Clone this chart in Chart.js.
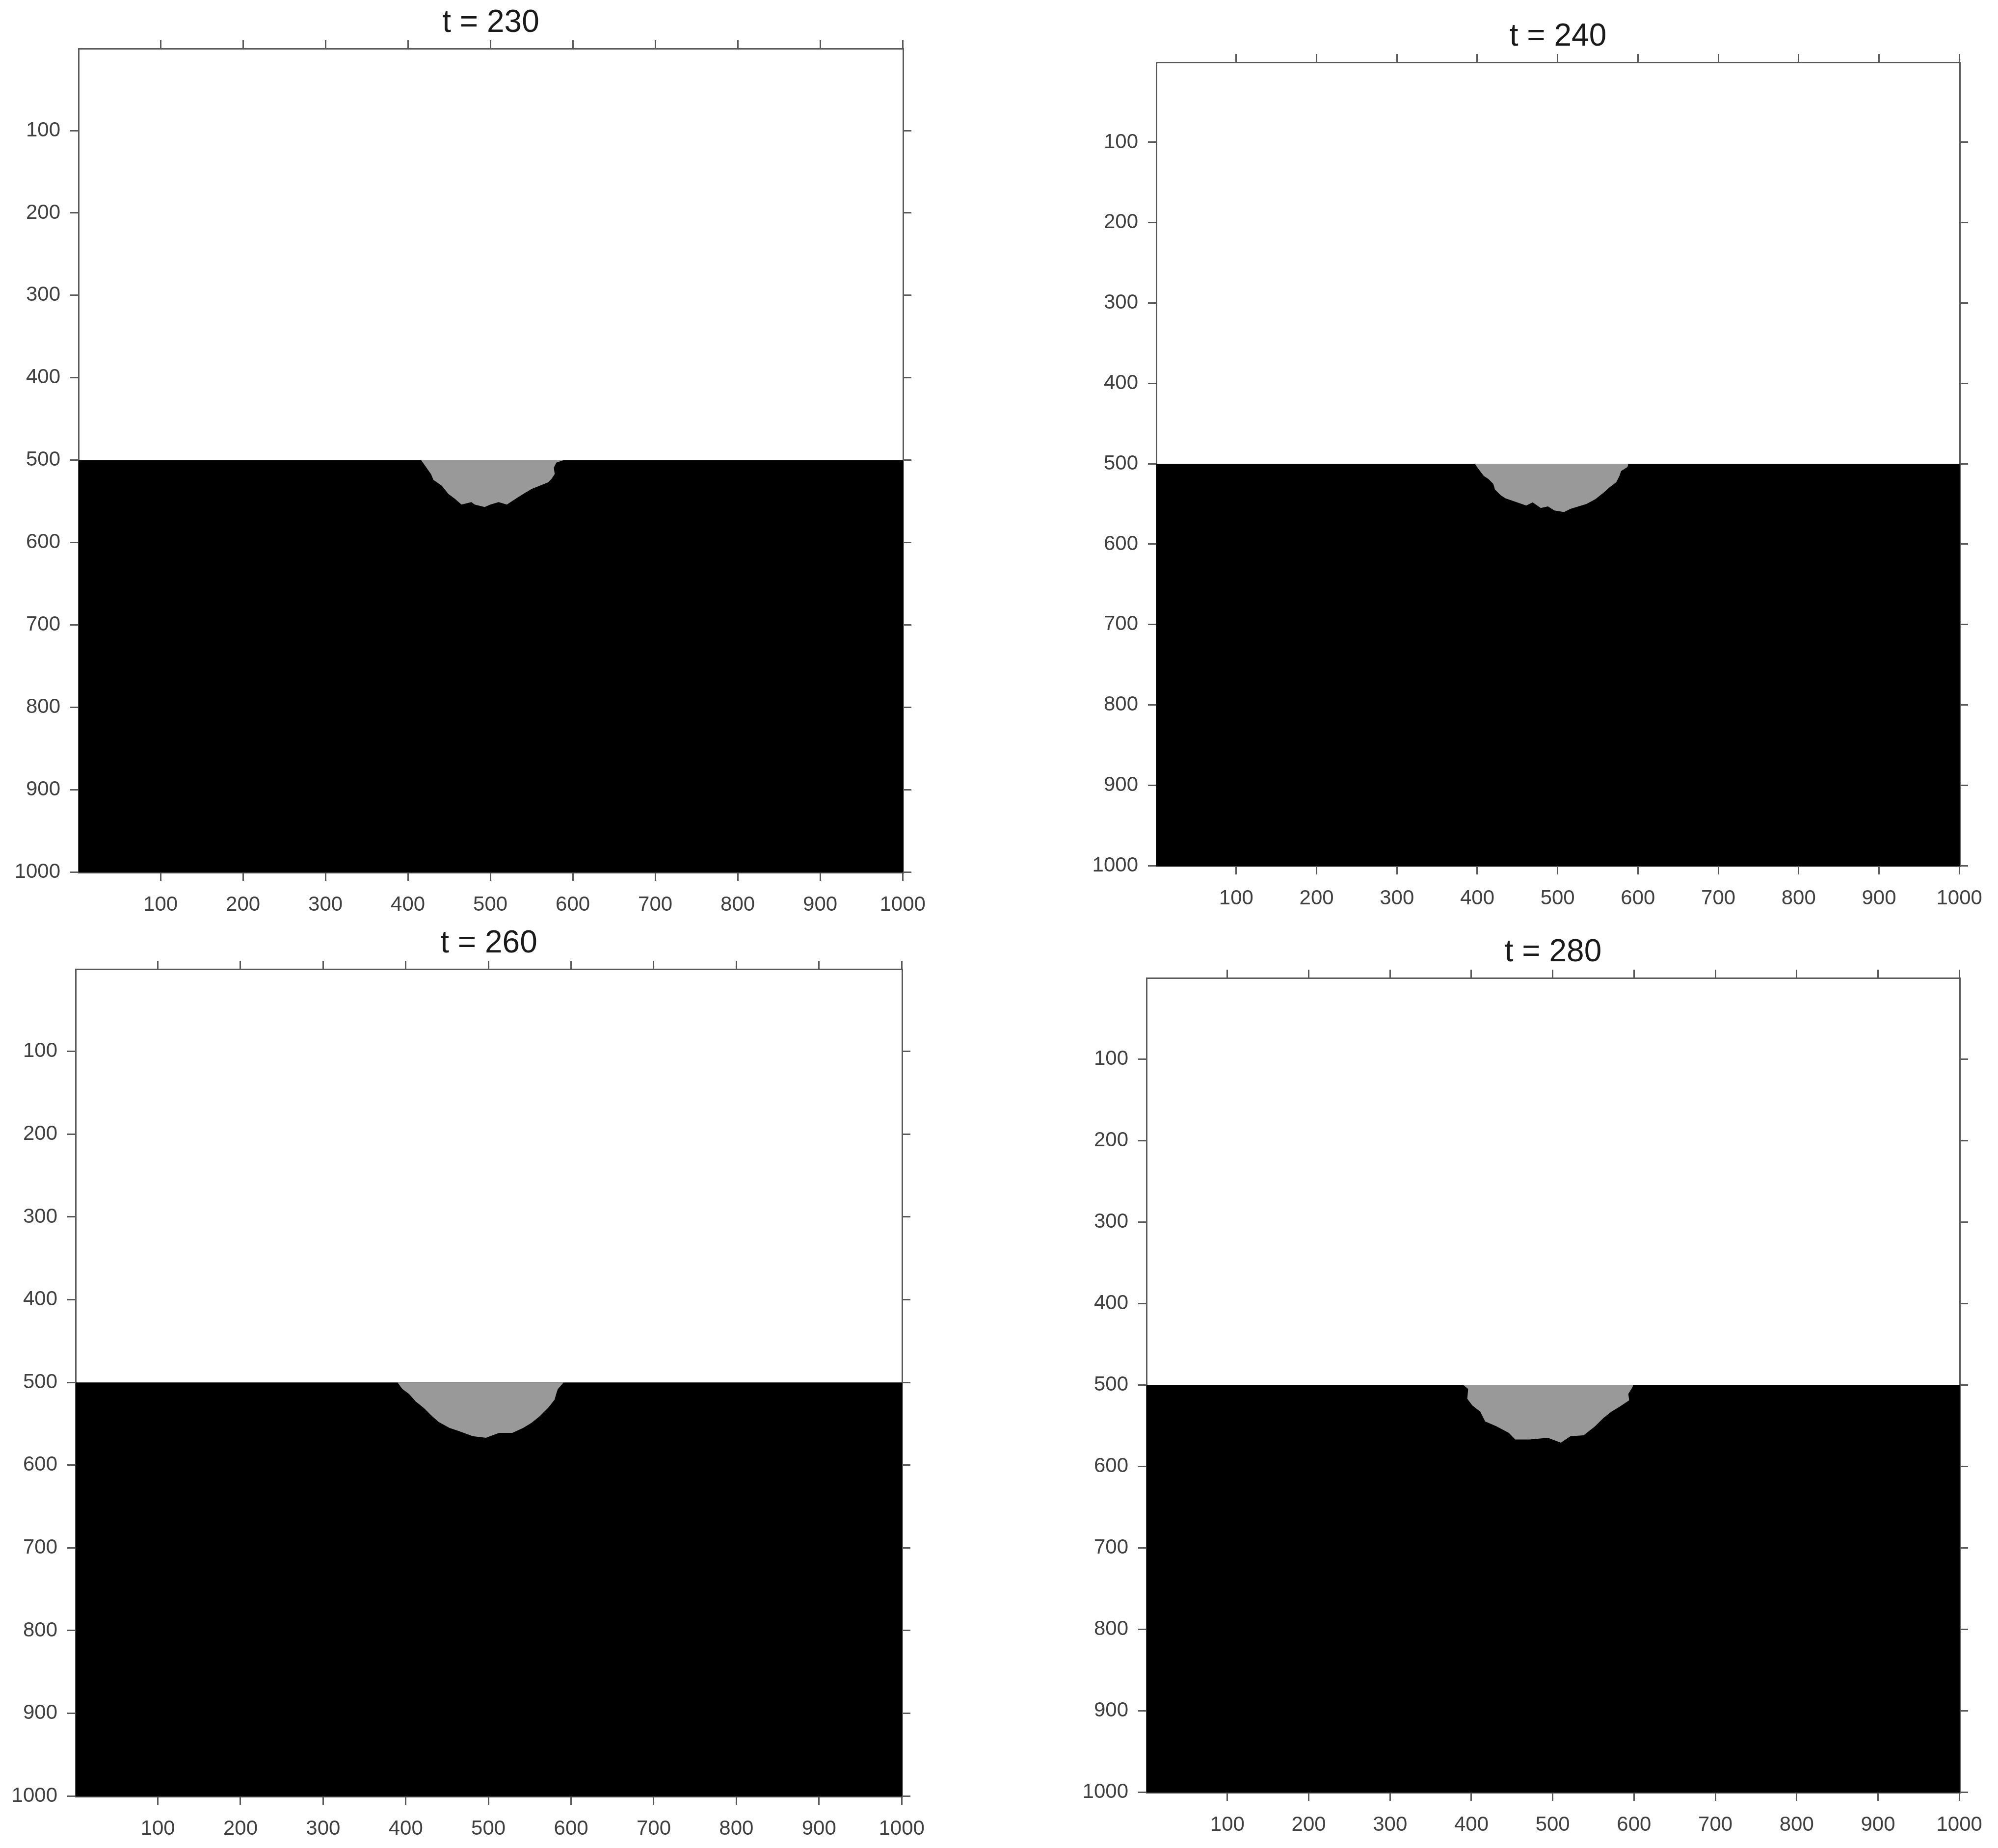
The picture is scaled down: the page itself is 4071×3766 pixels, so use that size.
<!DOCTYPE html>
<html>
<head>
<meta charset="utf-8">
<script src="https://cdn.jsdelivr.net/npm/chart.js@4.4.1/dist/chart.umd.min.js"></script>
<style>
html,body{margin:0;padding:0;background:#ffffff;}
body{width:4071px;height:3766px;position:relative;overflow:hidden;}
canvas{position:absolute;}
</style>
</head>
<body>
<script>
// ---------------- DATA ----------------
const panelTitles = ['t = 230', 't = 240', 't = 260', 't = 280'];
const xTickValues = [100, 200, 300, 400, 500, 600, 700, 800, 900, 1000];
const yTickValues = [100, 200, 300, 400, 500, 600, 700, 800, 900, 1000];
const domainMin = 0.5;
const domainMax = 1000.5;
const interfaceDepth = 500;

// gray region boundary (x position, depth) for each time step
const blobX230 = [416, 421, 428, 431, 441, 449, 457, 465, 477, 481, 493, 500, 510, 520, 532, 540, 550, 560, 570, 574, 578, 577, 580, 589];
const blobDepth230 = [500, 507, 517, 524, 531, 541, 547, 554, 551, 554, 557, 554, 551, 554, 546, 541, 535, 531, 527, 523, 517, 509, 503, 500];

const blobX240 = [397, 402, 408, 414, 420, 422, 429, 435, 447, 461, 469, 479, 488, 496, 508, 516, 526, 536, 547, 557, 565, 573, 577, 579, 587, 588];
const blobDepth240 = [500, 507, 515, 519, 525, 532, 539, 543, 547, 552, 548, 555, 553, 558, 560, 556, 553, 550, 544, 536, 529, 523, 515, 509, 504, 500];

const blobX260 = [390, 396, 404, 412, 422, 432, 440, 453, 465, 481, 497, 513, 529, 542, 552, 562, 572, 580, 582, 584, 591];
const blobDepth260 = [500, 508, 514, 523, 531, 541, 548, 555, 559, 565, 567, 561, 561, 555, 549, 541, 531, 521, 514, 508, 500];

const blobX280 = [390, 396, 395, 401, 411, 417, 431, 446, 454, 472, 494, 510, 522, 538, 552, 562, 572, 582, 594, 593, 598, 599];
const blobDepth280 = [500, 505, 517, 525, 533, 545, 551, 559, 567, 567, 565, 571, 563, 562, 551, 541, 533, 527, 519, 511, 503, 500];

const blobXs = [blobX230, blobX240, blobX260, blobX280];
const blobDepths = [blobDepth230, blobDepth240, blobDepth260, blobDepth280];

// ---------------- LAYOUT / STYLE ----------------
const panelRects = [
  {x: 160,  y: 99,   w: 1680, h: 1679},
  {x: 2356, y: 127,  w: 1637, h: 1638},
  {x: 154,  y: 1975, w: 1684, h: 1686},
  {x: 2336, y: 1993, w: 1657, h: 1660}
];
const FONT = "'Liberation Sans', Arial, Helvetica, sans-serif";
const LEFT_W = 150, RIGHT_W = 150, TOP_AX = 20, BOTTOM_H = 110;
const TITLE_SIZE = 64, TITLE_PAD = 10;
const TICK_SIZE = 42, TICK_LEN = 17;
const axisColor = '#5a5a5a';
const labelColor = '#404040';
const grayColor = '#999999';

Chart.defaults.font.family = FONT;

function fixSize(prop, val) {
  return function (scale) {
    scale[prop] = val;
    scale.paddingLeft = 0; scale.paddingRight = 0;
    scale.paddingTop = 0; scale.paddingBottom = 0;
  };
}
function setTicks(values) {
  return function (scale) { scale.ticks = values.map(v => ({value: v})); };
}
function axis(position, values, showLabels, size, pad) {
  const horizontal = position === 'top' || position === 'bottom';
  return {
    type: 'linear',
    position: position,
    min: domainMin,
    max: domainMax,
    reverse: !horizontal,
    afterBuildTicks: setTicks(values),
    ticks: {
      display: showLabels,
      autoSkip: false,
      maxRotation: 0,
      minRotation: 0,
      padding: pad,
      color: labelColor,
      font: {family: FONT, size: TICK_SIZE},
      callback: v => String(v)
    },
    grid: {
      display: true,
      drawOnChartArea: false,
      drawTicks: true,
      tickLength: TICK_LEN,
      color: axisColor,
      lineWidth: 3
    },
    border: {display: true, color: axisColor, width: 3},
    afterFit: fixSize(horizontal ? 'height' : 'width', size)
  };
}

panelRects.forEach((rect, i) => {
  const canvas = document.createElement('canvas');
  const w = rect.w + LEFT_W + RIGHT_W;
  const h = rect.h + TITLE_PAD + TITLE_SIZE + TOP_AX + BOTTOM_H;
  canvas.width = w; canvas.height = h;
  canvas.style.width = w + 'px'; canvas.style.height = h + 'px';
  canvas.style.left = (rect.x - LEFT_W) + 'px';
  canvas.style.top = (rect.y - TOP_AX - TITLE_SIZE - TITLE_PAD) + 'px';
  document.body.appendChild(canvas);

  const blob = blobXs[i].map((x, k) => ({x: x, y: blobDepths[i][k]}));
  const slab = [{x: domainMin, y: interfaceDepth}, {x: domainMax, y: interfaceDepth}];

  new Chart(canvas, {
    type: 'scatter',
    data: {
      datasets: [
        {
          label: 'gray region',
          data: blob,
          showLine: true,
          pointRadius: 0,
          borderWidth: 0,
          borderColor: grayColor,
          backgroundColor: grayColor,
          fill: {value: interfaceDepth},
          tension: 0,
          xAxisID: 'x', yAxisID: 'y'
        },
        {
          label: 'solid',
          data: slab,
          showLine: true,
          pointRadius: 0,
          borderWidth: 0,
          borderColor: '#000000',
          backgroundColor: '#000000',
          fill: {value: domainMax},
          xAxisID: 'x', yAxisID: 'y'
        }
      ]
    },
    options: {
      responsive: false,
      animation: false,
      devicePixelRatio: 1,
      layout: {padding: 0},
      plugins: {
        legend: {display: false},
        tooltip: {enabled: false},
        title: {
          display: true,
          text: panelTitles[i],
          color: '#1a1a1a',
          font: {family: FONT, size: TITLE_SIZE, weight: 'normal', lineHeight: 1},
          padding: {top: TITLE_PAD, bottom: 0}
        }
      },
      scales: {
        x: axis('bottom', xTickValues, true, BOTTOM_H, 24),
        x2: axis('top', xTickValues, false, TOP_AX, 0),
        y: axis('left', yTickValues, true, LEFT_W, 20),
        y2: axis('right', yTickValues, false, RIGHT_W, 0)
      }
    }
  });
});
</script>
</body>
</html>
